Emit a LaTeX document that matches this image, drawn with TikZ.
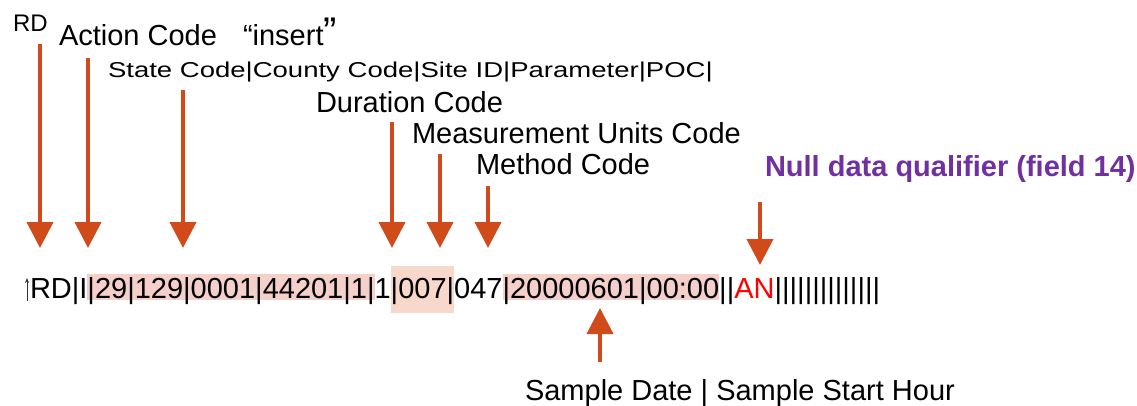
\documentclass[tikz,border=0pt]{standalone}
\usepackage{fontspec}
\setmainfont{Liberation Sans}
\usetikzlibrary{arrows.meta}
\definecolor{arrowc}{RGB}{208,74,26}
\definecolor{pinkc}{RGB}{245,207,202}
\definecolor{peachc}{RGB}{248,216,202}
\definecolor{purplec}{RGB}{112,48,160}
\definecolor{anred}{RGB}{255,0,0}
\begin{document}
\begin{tikzpicture}[x=1pt,y=-1pt,
  lbl/.style={anchor=base west,inner sep=0pt,outer sep=0pt},
  big/.style={font=\fontsize{29}{34}\selectfont},
  seg/.style={lbl,big},
  hl/.style={fill=pinkc,text height=24pt,text depth=2pt},
  ptr/.style={draw=arrowc,line width=4pt,-{Triangle[width=26pt,length=26pt]}},
]
\useasboundingbox (0,0) rectangle (1137,405);

% data line
\node[seg] (d1) at (30,298) {RD|I};
\node[seg,hl] (d2) at (d1.base east) {|29|129|0001|44201|1|};
\node[seg] (d3) at (d2.base east) {1};
\node[seg,fill=peachc,text height=32pt,text depth=15pt] (d4) at (d3.base east) {|007|};
\node[seg] (d5) at (d4.base east) {047};
\node[seg,hl] (d6) at (d5.base east) {|20000601|00:00};
\node[seg] (d7) at (d6.base east) {||};
\node[seg,text=anred] (d8) at (d7.base east) {AN};
\node[seg] (d9) at (d8.base east) {||||||||||||||};

% small cursor arrow
\coordinate (c1) at (27,301);
\coordinate (c2) at (27,278);
\draw[black!80,line width=0.8pt,-{Stealth[length=5pt,width=4pt]}] (c1) -- (c2);

% labels
\node[lbl,font=\fontsize{24}{28}\selectfont] (lRD) at (13,31) {RD};
\node[lbl,big] (lAct) at (59,45) {Action Code};
\node[lbl,big] (lIns) at (243,45) {“insert};
\node[lbl,font=\fontsize{40}{46}\selectfont] (lq) at (lIns.base east) {”};
\node[lbl,font=\fontsize{21.5}{25}\selectfont] (lState) at (108,77) {\scalebox{1.28}[1]{State Code|County Code|Site ID|Parameter|POC|}};
\node[lbl,big] (lDur) at (316,112) {Duration Code};
\node[lbl,big] (lMeas) at (412,143) {Measurement Units Code};
\node[lbl,big] (lMeth) at (476,174) {Method Code};
\node[lbl,font=\fontsize{29}{34}\selectfont\bfseries,text=purplec] (lNull) at (765,176) {Null data qualifier (field 14)};
\node[lbl,big] (lSample) at (525,400) {Sample Date | Sample Start Hour};

% arrows
\coordinate (sRD) at (40,44);   \coordinate (eRD) at (40,248);
\coordinate (sAc) at (88,58);   \coordinate (eAc) at (88,248);
\coordinate (sSt) at (183,90);  \coordinate (eSt) at (183,248);
\coordinate (sDu) at (392,122); \coordinate (eDu) at (392,248);
\coordinate (sMe) at (440,154); \coordinate (eMe) at (440,248);
\coordinate (sMt) at (488,186); \coordinate (eMt) at (488,248);
\coordinate (sNu) at (760,202); \coordinate (eNu) at (760,265);
\coordinate (sSa) at (600,362); \coordinate (eSa) at (600,308);
\draw[ptr] (sRD) -- (eRD);
\draw[ptr] (sAc) -- (eAc);
\draw[ptr] (sSt) -- (eSt);
\draw[ptr] (sDu) -- (eDu);
\draw[ptr] (sMe) -- (eMe);
\draw[ptr] (sMt) -- (eMt);
\draw[ptr] (sNu) -- (eNu);
\draw[ptr] (sSa) -- (eSa);
\end{tikzpicture}
\end{document}
